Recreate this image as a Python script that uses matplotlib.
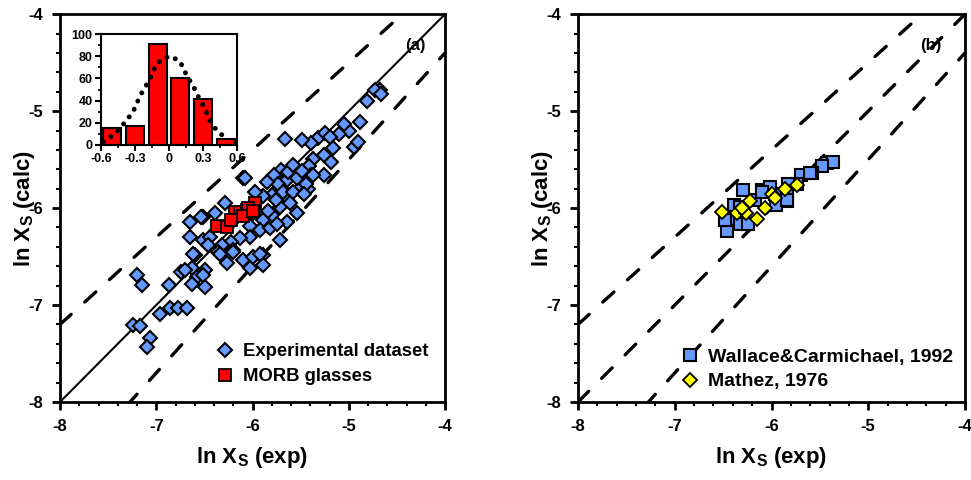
import numpy as np
import matplotlib
matplotlib.use("Agg")
import matplotlib.pyplot as plt
from matplotlib.ticker import MultipleLocator

plt.rcParams['font.family'] = ['Liberation Sans', 'DejaVu Sans']
plt.rcParams['font.weight'] = 'bold'
plt.rcParams['axes.unicode_minus'] = False

# ---- data ----
# panel (a): experimental dataset (ln Xs exp, ln Xs calc)
exp_x = [-4.68, -4.73, -4.66, -4.81, -4.88, -5.00, -4.95, -4.90, -5.16, -5.18,
         -5.26, -5.37, -5.32, -5.39, -5.49, -5.66, -5.25, -5.41, -5.39, -5.26,
         -5.45, -5.52, -5.42, -5.61, -5.70, -5.64, -5.68, -5.64, -6.10, -5.78,
         -5.63, -5.73, -5.85, -5.54, -5.44, -5.37, -5.68, -5.58, -5.47, -5.80,
         -5.89, -6.29, -5.71, -5.61, -5.54, -5.64, -5.80, -5.89, -6.03, -5.92,
         -5.82, -5.75, -5.71, -6.03, -6.13, -6.22, -6.32, -6.36, -6.20, -6.10,
         -5.99, -5.89, -5.89, -6.03, -6.51, -6.51, -6.44, -6.39, -6.49, -6.27,
         -6.60, -6.46, -6.34, -6.20, -5.92, -7.20, -7.15, -6.87, -6.74, -6.63,
         -6.58, -6.51, -6.63, -6.49, -6.96, -6.86, -6.77, -6.68, -7.24, -7.17,
         -7.06, -7.10, -6.08, -6.53, -6.65, -6.65, -6.62, -6.70, -5.05, -5.10,
         -5.19, -5.97, -5.84, -6.00, -5.76, -5.58, -5.49]
exp_y = [-4.78, -4.78, -4.82, -4.90, -5.11, -5.21, -5.37, -5.32, -5.38, -5.52,
         -5.45, -5.49, -5.28, -5.33, -5.30, -5.29, -5.23, -5.57, -5.66, -5.66,
         -5.71, -5.80, -5.80, -5.63, -5.61, -5.71, -5.81, -5.92, -5.69, -5.66,
         -5.63, -5.75, -5.73, -5.69, -5.75, -5.66, -5.83, -5.83, -5.85, -5.87,
         -5.88, -5.95, -5.99, -5.95, -6.05, -6.14, -6.07, -6.12, -6.18, -6.23,
         -6.21, -6.16, -6.33, -6.30, -6.31, -6.35, -6.38, -6.45, -6.43, -6.54,
         -6.50, -6.48, -6.59, -6.62, -6.09, -6.33, -6.30, -6.05, -6.64, -6.57,
         -6.48, -6.38, -6.47, -6.45, -6.47, -6.69, -6.79, -6.79, -6.66, -6.62,
         -6.71, -6.69, -6.78, -6.81, -7.09, -7.03, -7.03, -7.03, -7.21, -7.22,
         -7.34, -7.43, -5.69, -6.09, -6.14, -6.30, -6.47, -6.64, -5.13, -5.24,
         -5.27, -5.83, -6.03, -6.05, -5.92, -5.56, -5.62]

# panel (a): MORB glasses
morb_x = [-6.37, -6.27, -6.18, -6.13, -6.06, -5.97, -6.05, -6.10, -5.99, -6.22]
morb_y = [-6.18, -6.19, -6.04, -6.04, -6.02, -5.95, -6.00, -6.08, -6.03, -6.12]

# inset histogram
hist_centers = [-0.5, -0.3, -0.1, 0.1, 0.3, 0.5]
hist_counts = [15, 17, 91, 60, 41, 5]
curve_x = [-0.58, -0.49, -0.42, -0.36, -0.31, -0.27, -0.23, -0.18, -0.12, -0.06,
           0.02, 0.10, 0.14, 0.19, 0.23, 0.27, 0.32, 0.35, 0.39, 0.45, 0.50]
curve_y = [3, 9, 16.6, 24, 31.6, 40.7, 49, 57, 71, 78,
           80, 75, 66, 57, 50, 41, 33, 24, 17, 10.5, 6.5]

# panel (b): Wallace & Carmichael 1992
wal_x = [-5.43, -5.36, -5.48, -5.58, -5.69, -5.74, -5.83, -5.84, -5.96, -5.84,
         -5.95, -6.10, -6.02, -6.29, -6.39, -6.33, -6.45, -6.33, -6.24, -6.46,
         -6.17, -6.48, -6.10, -5.84, -5.60]
wal_y = [-5.54, -5.52, -5.57, -5.64, -5.66, -5.75, -5.75, -5.85, -5.85, -5.93,
         -5.97, -5.81, -5.78, -5.81, -5.97, -5.99, -6.11, -6.16, -6.16, -6.24,
         -5.92, -6.12, -5.83, -5.92, -5.64]
# panel (b): Mathez 1976
mat_x = [-6.51, -6.36, -6.26, -6.22, -6.15, -6.07, -6.00, -5.86, -5.74, -5.96, -6.30]
mat_y = [-6.04, -6.05, -6.05, -5.93, -6.11, -6.00, -5.85, -5.80, -5.76, -5.90, -6.00]

blue = '#6699ff'
dash = (0, (4.5, 5.5))

fig = plt.figure(figsize=(9.71, 4.8), dpi=100)
axa = fig.add_axes([0.0618, 0.1625, 0.3965, 0.808])
axb = fig.add_axes([0.5953, 0.1625, 0.3985, 0.808])


def style_main(ax):
    ax.set_xlim(-8, -4)
    ax.set_ylim(-8, -4)
    ax.xaxis.set_major_locator(MultipleLocator(1))
    ax.yaxis.set_major_locator(MultipleLocator(1))
    ax.xaxis.set_minor_locator(MultipleLocator(0.2))
    ax.yaxis.set_minor_locator(MultipleLocator(0.2))
    ax.tick_params(which='major', direction='out', length=6, width=2, labelsize=12, pad=6)
    ax.tick_params(which='minor', direction='out', length=3, width=1.5)
    for s in ax.spines.values():
        s.set_linewidth(2)
    for lab in ax.get_xticklabels() + ax.get_yticklabels():
        lab.set_fontweight('bold')
    ax.set_xlabel('ln X$_\\mathregular{S}$ (exp)', fontsize=16, fontweight='bold', labelpad=8)
    ax.set_ylabel('ln X$_\\mathregular{S}$ (calc)', fontsize=16, fontweight='bold')
    ax.yaxis.set_label_coords(-0.06, 0.5)


xx = np.array([-8.0, -4.0])

# ---- panel (a) ----
style_main(axa)
axa.plot(xx, 0.9 * xx, color='k', lw=2.4, linestyle=dash, dash_capstyle='round')
axa.plot(xx, 1.1 * xx, color='k', lw=2.4, linestyle=dash, dash_capstyle='round')
axa.plot(xx, xx, color='k', lw=1.5)
axa.plot(exp_x, exp_y, 'D', ms=7, mfc=blue, mec='k', mew=1.5, label='Experimental dataset')
axa.plot(morb_x, morb_y, 's', ms=8.5, mfc='red', mec='k', mew=1.3, label='MORB glasses')
axa.text(-4.31, -4.32, '(a)', fontsize=12, fontweight='bold', ha='center', va='center')
axa.legend(loc='lower right', frameon=False, handletextpad=0.35,
           labelspacing=0.45, borderaxespad=0.5, handlelength=1.2,
           prop={'weight': 'bold', 'size': 13.3})

# inset histogram
axi = fig.add_axes([0.104, 0.698, 0.140, 0.231])
axi.bar(hist_centers, hist_counts, width=0.16, color='red', edgecolor='k', linewidth=1.5)
axi.plot(curve_x, curve_y, color='k', lw=3.6, linestyle=(0, (0.01, 1.8)),
         dash_capstyle='round')
axi.set_xlim(-0.6, 0.6)
axi.set_ylim(0, 100)
axi.set_xticks([-0.6, -0.3, 0, 0.3, 0.6])
axi.set_xticklabels(['-0.6', '-0.3', '0', '0.3', '0.6'])
axi.xaxis.set_minor_locator(MultipleLocator(0.15))
axi.yaxis.set_major_locator(MultipleLocator(20))
axi.yaxis.set_minor_locator(MultipleLocator(10))
axi.tick_params(which='major', direction='out', length=4, width=1.5, labelsize=9, pad=2)
axi.tick_params(which='minor', direction='out', length=2.5, width=1.2)
for lab in axi.get_xticklabels() + axi.get_yticklabels():
    lab.set_fontweight('bold')
for s in axi.spines.values():
    s.set_linewidth(1.5)

# ---- panel (b) ----
style_main(axb)
axb.plot(xx, 0.9 * xx, color='k', lw=2.4, linestyle=dash, dash_capstyle='round')
axb.plot(xx, xx, color='k', lw=2.4, linestyle=dash, dash_capstyle='round')
axb.plot(xx, 1.1 * xx, color='k', lw=2.4, linestyle=dash, dash_capstyle='round')
axb.plot(wal_x, wal_y, 's', ms=8.5, mfc=blue, mec='k', mew=1.5, label='Wallace&Carmichael, 1992')
axb.plot(mat_x, mat_y, 'D', ms=7, mfc='yellow', mec='k', mew=1.3, label='Mathez, 1976')
axb.text(-4.35, -4.32, '(b)', fontsize=12, fontweight='bold', ha='center', va='center')
axb.legend(loc='lower right', frameon=False, handletextpad=0.35,
           labelspacing=0.35, borderaxespad=0.2, handlelength=1.2,
           prop={'weight': 'bold', 'size': 14})

fig.savefig('out.png', dpi=100)
